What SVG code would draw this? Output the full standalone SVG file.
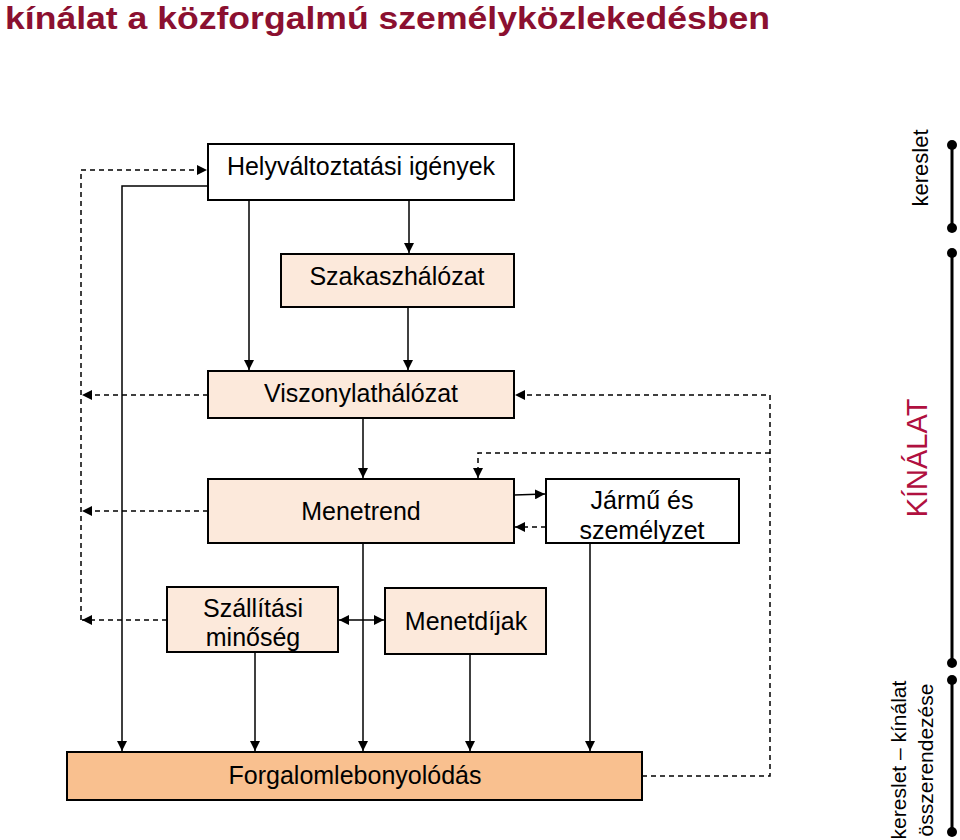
<svg xmlns="http://www.w3.org/2000/svg" width="960" height="840" viewBox="0 0 960 840">
<defs>
<marker id="ah" viewBox="0 0 10 10" refX="10" refY="5" markerWidth="10" markerHeight="10" markerUnits="userSpaceOnUse" orient="auto-start-reverse">
<path d="M0,0 L10,5 L0,10 z" fill="#000"/>
</marker>
<style>
.box{stroke:#000;stroke-width:2}
.w{fill:#fff}
.p{fill:#FCE9DB}
.o{fill:#F9C08F}
.t{font-family:"Liberation Sans",Arial,sans-serif;font-size:25px;fill:#000;text-anchor:middle}
.s{fill:none;stroke:#000;stroke-width:1.5}
.d{fill:none;stroke:#000;stroke-width:1.5;stroke-dasharray:5 4}
.bar{stroke:#000;stroke-width:3}
</style>
</defs>
<rect width="960" height="840" fill="#fff"/>
<text x="5" y="29" font-family="'Liberation Sans',Arial,sans-serif" font-weight="bold" font-size="32" fill="#8B1030" textLength="765" lengthAdjust="spacingAndGlyphs">kínálat a közforgalmú személyközlekedésben</text>

<g id="connectors">
<polyline class="d" points="81,620 81,170 207,170" marker-end="url(#ah)"/>
<line class="d" x1="208" y1="395" x2="82" y2="395" marker-end="url(#ah)"/>
<line class="d" x1="208" y1="511" x2="82" y2="511" marker-end="url(#ah)"/>
<line class="d" x1="167" y1="620" x2="82" y2="620" marker-end="url(#ah)"/>
<polyline class="s" points="208,186 122,186 122,751" marker-end="url(#ah)"/>
<line class="s" x1="249" y1="200" x2="249" y2="370" marker-end="url(#ah)"/>
<line class="s" x1="409" y1="200" x2="409" y2="253" marker-end="url(#ah)"/>
<line class="s" x1="408" y1="307" x2="408" y2="370" marker-end="url(#ah)"/>
<polyline class="d" points="642,776 770,776 770,395 515,395" marker-end="url(#ah)"/>
<polyline class="d" points="770,453 478,453 478,478" marker-end="url(#ah)"/>
<line class="s" x1="363" y1="418" x2="363" y2="478" marker-end="url(#ah)"/>
<line class="s" x1="514" y1="495" x2="545" y2="494" marker-end="url(#ah)"/>
<line class="d" x1="546" y1="527" x2="515" y2="527" marker-end="url(#ah)"/>
<line class="s" x1="363" y1="543" x2="363" y2="751" marker-end="url(#ah)"/>
<line class="s" x1="590" y1="543" x2="590" y2="751" marker-end="url(#ah)"/>
<line class="s" x1="339" y1="620" x2="384" y2="620" marker-start="url(#ah)" marker-end="url(#ah)"/>
<line class="s" x1="255" y1="652" x2="255" y2="751" marker-end="url(#ah)"/>
<line class="s" x1="470" y1="654" x2="470" y2="751" marker-end="url(#ah)"/>
</g>

<g id="n-helyvaltoztatasi">
<rect class="box w" x="208" y="144" width="306" height="56"/>
<text class="t" x="361" y="175">Helyváltoztatási igények</text>
</g>
<g id="n-szakaszhalozat">
<rect class="box p" x="281" y="254" width="233" height="53"/>
<text class="t" x="397" y="285">Szakaszhálózat</text>
</g>
<g id="n-viszonylathalozat">
<rect class="box p" x="208" y="371" width="306" height="47"/>
<text class="t" x="361" y="402">Viszonylathálózat</text>
</g>
<g id="n-menetrend">
<rect class="box p" x="208" y="479" width="306" height="64"/>
<text class="t" x="361" y="520">Menetrend</text>
</g>
<g id="n-jarmu">
<rect class="box w" x="546" y="479" width="193" height="64"/>
<text class="t" x="642" y="509">Jármű és</text>
<text class="t" x="642" y="539">személyzet</text>
</g>
<g id="n-szallitasi">
<rect class="box p" x="167" y="587" width="171" height="65"/>
<text class="t" x="253" y="617">Szállítási</text>
<text class="t" x="253" y="646">minőség</text>
</g>
<g id="n-menetdijak">
<rect class="box p" x="385" y="588" width="161" height="66"/>
<text class="t" x="466" y="630">Menetdíjak</text>
</g>
<g id="n-forgalom">
<rect class="box o" x="67" y="752" width="575" height="48"/>
<text class="t" x="355" y="784">Forgalomlebonyolódás</text>
</g>

<g id="side">
<line class="bar" x1="952" y1="145" x2="952" y2="228"/>
<circle cx="952" cy="145" r="5"/><circle cx="952" cy="228" r="5"/>
<line class="bar" x1="952" y1="253" x2="952" y2="663"/>
<circle cx="952" cy="253" r="5"/><circle cx="952" cy="663" r="5"/>
<line class="bar" x1="952" y1="680" x2="952" y2="832"/>
<circle cx="952" cy="680" r="5"/><circle cx="952" cy="832" r="5"/>
<text transform="translate(928,168) rotate(-90)" font-family="'Liberation Sans',Arial,sans-serif" font-size="22" text-anchor="middle">kereslet</text>
<text transform="translate(927,458) rotate(-90)" font-family="'Liberation Sans',Arial,sans-serif" font-size="29" fill="#B0103F" text-anchor="middle">KÍNÁLAT</text>
<text transform="translate(906,760) rotate(-90)" font-family="'Liberation Sans',Arial,sans-serif" font-size="21" text-anchor="middle">kereslet – kínálat</text>
<text transform="translate(933,760) rotate(-90)" font-family="'Liberation Sans',Arial,sans-serif" font-size="21" text-anchor="middle">összerendezése</text>
</g>
</svg>
